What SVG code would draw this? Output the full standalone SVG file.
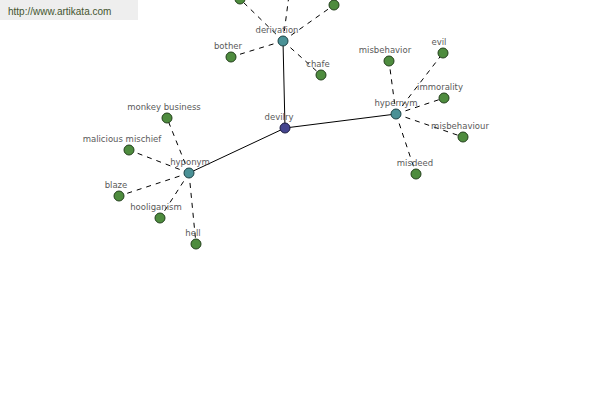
<svg xmlns="http://www.w3.org/2000/svg" width="600" height="400" viewBox="0 0 600 400">
<style>
.lbl{font-family:"DejaVu Sans","Liberation Sans",sans-serif;font-size:8.5px;fill:#5a5a5a;text-anchor:middle}
.leaf{fill:#4e8c3e;stroke:#23401c;stroke-width:1}
.rel{fill:#4a9196;stroke:#1f4447;stroke-width:1}
.root{fill:#45458f;stroke:#1c1c40;stroke-width:1}
.solid{stroke:#000;stroke-width:1;fill:none}
.dash{stroke:#000;stroke-width:1;fill:none;stroke-dasharray:5,5}
</style>
<rect x="0" y="0" width="138" height="20" fill="#eeeeee"/>
<text x="8" y="15" font-family="Liberation Sans, Arial, sans-serif" font-size="10" fill="#44552e">http://www.artikata.com</text>
<g id="connectors">
<line class="solid" x1="285" y1="128" x2="283" y2="41"/>
<line class="solid" x1="285" y1="128" x2="396" y2="114"/>
<line class="solid" x1="285" y1="128" x2="189" y2="173"/>
<line class="dash" x1="283" y1="41" x2="240" y2="-1"/>
<line class="dash" x1="283" y1="41" x2="291" y2="-20"/>
<line class="dash" x1="283" y1="41" x2="334" y2="5"/>
<line class="dash" x1="283" y1="41" x2="231" y2="57"/>
<line class="dash" x1="283" y1="41" x2="321" y2="75"/>
<line class="dash" x1="396" y1="114" x2="389" y2="61"/>
<line class="dash" x1="396" y1="114" x2="443" y2="53"/>
<line class="dash" x1="396" y1="114" x2="444" y2="98"/>
<line class="dash" x1="396" y1="114" x2="463" y2="137"/>
<line class="dash" x1="396" y1="114" x2="416" y2="174"/>
<line class="dash" x1="189" y1="173" x2="167" y2="118"/>
<line class="dash" x1="189" y1="173" x2="129" y2="150"/>
<line class="dash" x1="189" y1="173" x2="119" y2="196"/>
<line class="dash" x1="189" y1="173" x2="160" y2="218"/>
<line class="dash" x1="189" y1="173" x2="196" y2="244"/>
</g>
<g id="n-top1"><circle class="leaf" cx="240" cy="-1" r="5"/></g>
<g id="n-top3"><circle class="leaf" cx="334" cy="5" r="5"/></g>
<g id="n-bother"><circle class="leaf" cx="231" cy="57" r="5"/><text class="lbl" x="228" y="49">bother</text></g>
<g id="n-chafe"><circle class="leaf" cx="321" cy="75" r="5"/><text class="lbl" x="318" y="67">chafe</text></g>
<g id="n-misbehavior"><circle class="leaf" cx="389" cy="61" r="5"/><text class="lbl" x="385" y="53">misbehavior</text></g>
<g id="n-evil"><circle class="leaf" cx="443" cy="53" r="5"/><text class="lbl" x="439" y="45">evil</text></g>
<g id="n-immorality"><circle class="leaf" cx="444" cy="98" r="5"/><text class="lbl" x="440" y="90">immorality</text></g>
<g id="n-misbehaviour"><circle class="leaf" cx="463" cy="137" r="5"/><text class="lbl" x="460" y="129">misbehaviour</text></g>
<g id="n-misdeed"><circle class="leaf" cx="416" cy="174" r="5"/><text class="lbl" x="415" y="166">misdeed</text></g>
<g id="n-monkey"><circle class="leaf" cx="167" cy="118" r="5"/><text class="lbl" x="164" y="110">monkey business</text></g>
<g id="n-malicious"><circle class="leaf" cx="129" cy="150" r="5"/><text class="lbl" x="122" y="142">malicious mischief</text></g>
<g id="n-blaze"><circle class="leaf" cx="119" cy="196" r="5"/><text class="lbl" x="116" y="188">blaze</text></g>
<g id="n-hooliganism"><circle class="leaf" cx="160" cy="218" r="5"/><text class="lbl" x="156" y="210">hooliganism</text></g>
<g id="n-hell"><circle class="leaf" cx="196" cy="244" r="5"/><text class="lbl" x="193" y="236">hell</text></g>
<g id="n-derivation"><circle class="rel" cx="283" cy="41" r="5"/><text class="lbl" x="277" y="33">derivation</text></g>
<g id="n-hypernym"><circle class="rel" cx="396" cy="114" r="5"/><text class="lbl" x="396" y="106">hypernym</text></g>
<g id="n-hyponym"><circle class="rel" cx="189" cy="173" r="5"/><text class="lbl" x="190" y="165">hyponym</text></g>
<g id="n-devilry"><circle class="root" cx="285" cy="128" r="5"/><text class="lbl" x="279" y="120">devilry</text></g>
</svg>
